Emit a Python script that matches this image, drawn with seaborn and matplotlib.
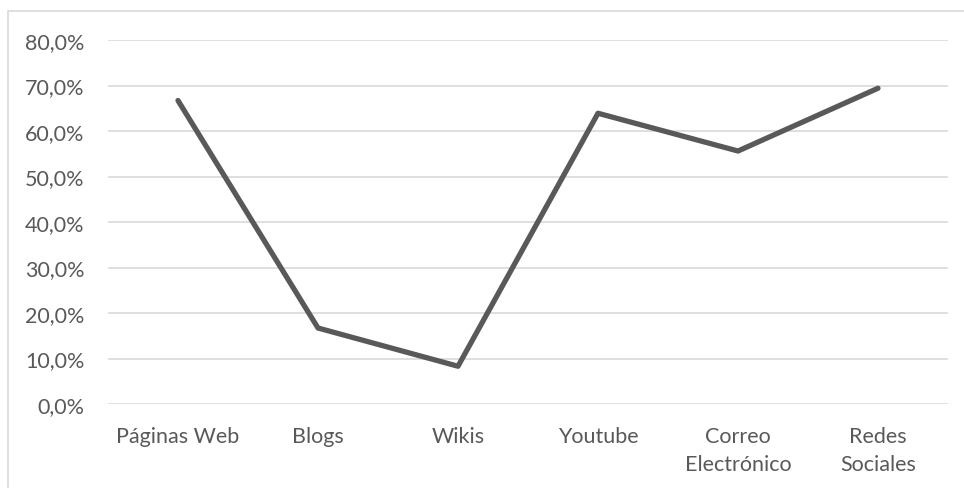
import matplotlib
matplotlib.use("Agg")
import matplotlib.pyplot as plt
import matplotlib.patches as patches
from matplotlib.ticker import FuncFormatter
import seaborn as sns
import pandas as pd

categories = ["Páginas Web", "Blogs", "Wikis", "Youtube", "Correo\nElectrónico", "Redes\nSociales"]
values = [0.667, 0.167, 0.083, 0.639, 0.556, 0.694]
yticks = [0.0, 0.1, 0.2, 0.3, 0.4, 0.5, 0.6, 0.7, 0.8]

sns.set_theme(style="white")
plt.rcParams["font.family"] = ["Lato", "DejaVu Sans"]

W, H = 964, 489
fig = plt.figure(figsize=(W / 100, H / 100), dpi=100)
ax = fig.add_axes([108 / W, 1 - 405 / H, 840 / W, (405 - 41) / H])

df = pd.DataFrame({"cat": range(len(categories)), "val": values})
sns.lineplot(data=df, x="cat", y="val", ax=ax, color="#595959", linewidth=3.8,
             sort=False, solid_capstyle="round", solid_joinstyle="round")

ax.set_xlim(-0.5, len(categories) - 0.5)
ax.set_ylim(0, 0.8)
ax.set_yticks(yticks)
ax.yaxis.set_major_formatter(FuncFormatter(lambda v, p: f"{v*100:.1f}%".replace(".", ",")))
ax.set_xticks(range(len(categories)))
ax.set_xticklabels(categories, linespacing=1.5)
ax.grid(axis="y", color="#d9d9d9", linewidth=1.2)
ax.set_axisbelow(True)
for s in ax.spines.values():
    s.set_visible(False)
ax.tick_params(axis="both", length=0, labelsize=15.5, colors="#595959")
ax.tick_params(axis="y", pad=17)
ax.tick_params(axis="x", pad=16)
ax.set_xlabel("")
ax.set_ylabel("")

# chart frame
fig.patches.append(patches.Rectangle((8 / W, -0.1), 1.2, 1.1 - 12 / H,
                                     transform=fig.transFigure, fill=False,
                                     edgecolor="#d9d9d9", linewidth=1.2))

fig.savefig("out.png", dpi=100)
